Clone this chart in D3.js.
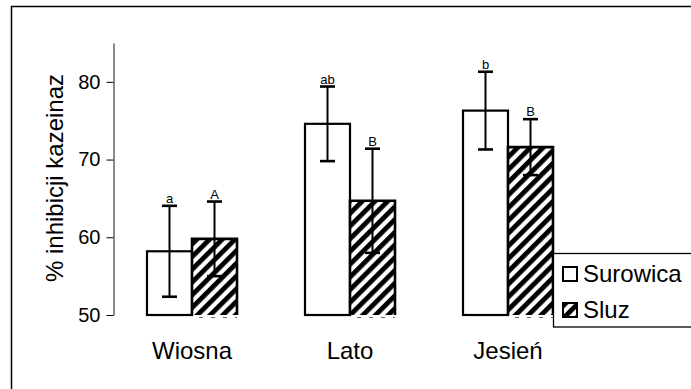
<!DOCTYPE html>
<html>
<head>
<meta charset="utf-8">
<script src="https://cdn.jsdelivr.net/npm/d3@7"></script>
<style>
    body { margin: 0; background: white; }
    text { font-family: "Liberation Sans", Arial, sans-serif; fill: black; }
</style>
</head>
<body>
<svg id="svg"></svg>
<script>
// data
const categories = ["Wiosna", "Lato", "Jesień"];
const seriesNames = ["Surowica", "Sluz"];
const surowicaValues = [58.2, 74.6, 76.3];
const surowicaErrors = [5.85, 4.8, 5.0];
const sluzValues = [59.8, 64.7, 71.6];
const sluzErrors = [4.8, 6.7, 3.6];
const surowicaLetters = ["a", "ab", "b"];
const sluzLetters = ["A", "B", "B"];
const yTicks = [50, 60, 70, 80];

const width = 691;
const height = 389;

let svg = d3.select("#svg")
    .attr("width", width)
    .attr("height", height);

// build rows for drawing
let rows = [];
categories.forEach((c, i) => {
    rows.push({ cat: c, series: "Surowica", value: surowicaValues[i], err: surowicaErrors[i], letter: surowicaLetters[i] });
    rows.push({ cat: c, series: "Sluz", value: sluzValues[i], err: sluzErrors[i], letter: sluzLetters[i] });
});

// hatch pattern for Sluz
let defs = svg.append("defs");
let hatch = defs.append("pattern")
    .attr("id", "hatch")
    .attr("patternUnits", "userSpaceOnUse")
    .attr("width", 9)
    .attr("height", 9)
    .attr("patternTransform", "rotate(45)");
hatch.append("rect").attr("width", 9).attr("height", 9).attr("fill", "white");
hatch.append("rect").attr("width", 4.8).attr("height", 9).attr("fill", "black");

// outer frame (runs off the right and bottom edges)
svg.append("rect")
    .attr("x", 11.5)
    .attr("y", 6.5)
    .attr("width", 720)
    .attr("height", 420)
    .attr("fill", "none")
    .attr("stroke", "black")
    .attr("stroke-width", 1.5);

const xScale = d3.scaleBand()
    .domain(categories)
    .range([113, 587])
    .padding(0);

const xInner = d3.scaleBand()
    .domain(seriesNames)
    .range([xScale.bandwidth() / 2 - 45, xScale.bandwidth() / 2 + 45]);

const yScale = d3.scaleLinear()
    .domain([50, 85])
    .range([315, 43]);

// y axis
let yAxis = svg.append("g")
    .attr("transform", "translate(113.5,0)")
    .call(d3.axisLeft(yScale).tickValues(yTicks).tickSize(7).tickSizeOuter(0).tickPadding(6));
yAxis.select(".domain").attr("stroke", "#666").attr("stroke-width", 1.5);
yAxis.selectAll(".tick line").attr("stroke", "black");
yAxis.selectAll(".tick text")
    .style("font-size", "20px")
    .style("font-family", "'Liberation Sans', Arial, sans-serif")
    .attr("fill", "black");

// category labels
let xAxis = svg.append("g")
    .attr("transform", "translate(0,315)")
    .call(d3.axisBottom(xScale).tickSize(0).tickPadding(27));
xAxis.select(".domain").remove();
xAxis.selectAll(".tick text")
    .style("font-size", "24px")
    .style("font-family", "'Liberation Sans', Arial, sans-serif")
    .attr("fill", "black");

// axis title
svg.append("text")
    .attr("transform", "translate(63,178) rotate(-90)")
    .attr("text-anchor", "middle")
    .style("font-size", "24px")
    .text("% inhibicji kazeinaz");

const barX = d => xScale(d.cat) + xInner(d.series);
const bw = xInner.bandwidth();

// white bars
svg.selectAll(".bar-s")
    .data(rows.filter(d => d.series === "Surowica"))
    .enter().append("rect")
    .attr("class", "bar-s")
    .attr("x", barX)
    .attr("y", d => yScale(d.value))
    .attr("width", bw)
    .attr("height", d => yScale(50) - yScale(d.value))
    .attr("fill", "white")
    .attr("stroke", "black")
    .attr("stroke-width", 2.2);

// hatched bars, open at the bottom
let hatched = rows.filter(d => d.series === "Sluz");
svg.selectAll(".bar-h")
    .data(hatched)
    .enter().append("rect")
    .attr("class", "bar-h")
    .attr("x", barX)
    .attr("y", d => yScale(d.value))
    .attr("width", bw)
    .attr("height", d => yScale(50) - yScale(d.value))
    .attr("fill", "url(#hatch)");
svg.selectAll(".bar-h-edge")
    .data(hatched)
    .enter().append("path")
    .attr("class", "bar-h-edge")
    .attr("d", d => {
        let x0 = barX(d), x1 = barX(d) + bw, y0 = yScale(50), y1 = yScale(d.value);
        return `M${x0},${y0}V${y1}H${x1}V${y0}`;
    })
    .attr("fill", "none")
    .attr("stroke", "black")
    .attr("stroke-width", 2.6);
svg.selectAll(".bar-h-base")
    .data(hatched)
    .enter().append("line")
    .attr("class", "bar-h-base")
    .attr("x1", d => barX(d) + 7)
    .attr("x2", d => barX(d) + bw)
    .attr("y1", yScale(50) + 2.5)
    .attr("y2", yScale(50) + 2.5)
    .attr("stroke", "#444")
    .attr("stroke-width", 0.8)
    .attr("stroke-dasharray", "4,8");

// error bars
let errs = svg.selectAll(".err")
    .data(rows)
    .enter().append("g")
    .attr("class", "err")
    .attr("transform", d => `translate(${barX(d) + bw / 2},0)`);
errs.append("line")
    .attr("y1", d => yScale(d.value + d.err))
    .attr("y2", d => yScale(d.value - d.err))
    .attr("stroke", "black")
    .attr("stroke-width", 2);
errs.append("line")
    .attr("x1", -7.5).attr("x2", 7.5)
    .attr("y1", d => yScale(d.value + d.err))
    .attr("y2", d => yScale(d.value + d.err))
    .attr("stroke", "black")
    .attr("stroke-width", 2.6);
errs.append("line")
    .attr("x1", -7.5).attr("x2", 7.5)
    .attr("y1", d => yScale(d.value - d.err))
    .attr("y2", d => yScale(d.value - d.err))
    .attr("stroke", "black")
    .attr("stroke-width", 2.6);

// significance letters
errs.append("text")
    .attr("y", d => yScale(d.value + d.err) - 3)
    .attr("text-anchor", "middle")
    .style("font-size", "13px")
    .text(d => d.letter);

// legend
let legend = svg.append("g");
legend.append("rect")
    .attr("x", 553.5)
    .attr("y", 253.5)
    .attr("width", 200)
    .attr("height", 73.5)
    .attr("fill", "white")
    .attr("stroke", "black")
    .attr("stroke-width", 1.3);
seriesNames.forEach((s, i) => {
    legend.append("rect")
        .attr("x", 563)
        .attr("y", 267 + i * 36)
        .attr("width", 14)
        .attr("height", 14)
        .attr("fill", s === "Sluz" ? "url(#hatch)" : "white")
        .attr("stroke", "black")
        .attr("stroke-width", 2);
    legend.append("text")
        .attr("x", 583)
        .attr("y", 281.5 + i * 36)
        .style("font-size", "24px")
        .text(s);
});
</script>
</body>
</html>
